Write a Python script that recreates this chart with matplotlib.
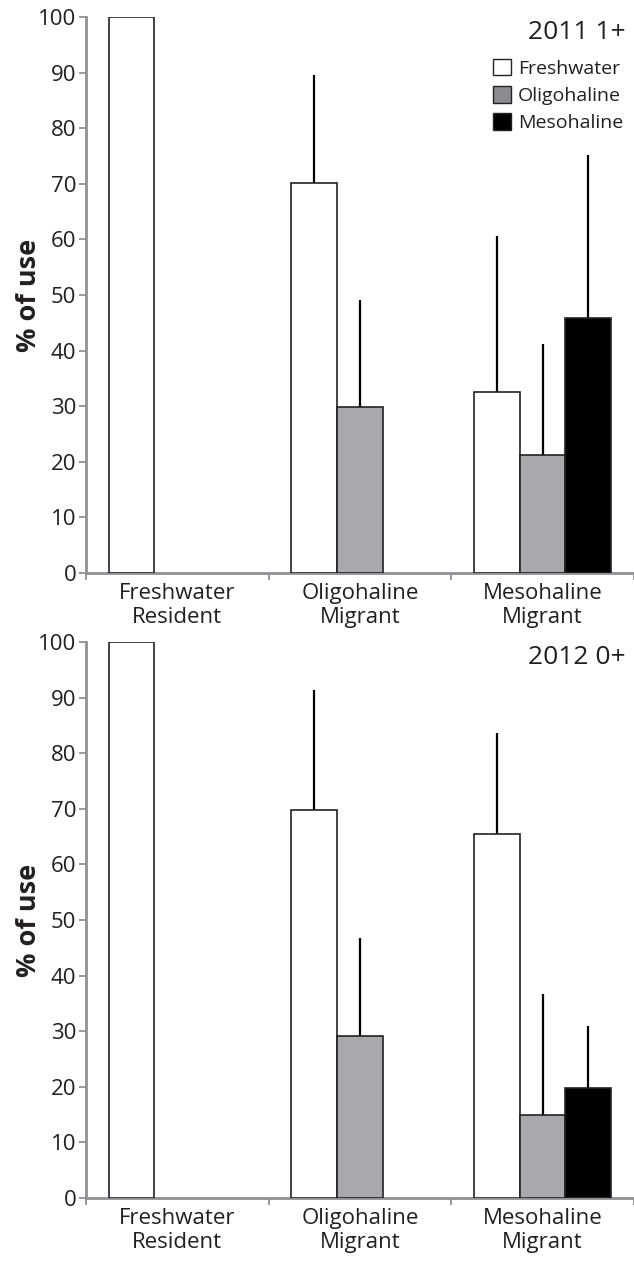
import numpy as np
import matplotlib
matplotlib.use("Agg")
import matplotlib.pyplot as plt
from matplotlib.patches import Patch

plt.rcParams['font.family'] = ['Open Sans', 'DejaVu Sans']

categories = ["Freshwater\nResident", "Oligohaline\nMigrant", "Mesohaline\nMigrant"]
series = ["Freshwater", "Oligohaline", "Mesohaline"]

# 2011, 1+ fish: mean % use and upper SD
fresh_2011 = [100, 70.1, 32.5]
fresh_2011_sd = [0, 19.5, 28.1]
oligo_2011 = [0, 29.8, 21.3]
oligo_2011_sd = [0, 19.3, 19.9]
meso_2011 = [0, 0, 45.9]
meso_2011_sd = [0, 0, 29.3]

# 2012, 0+ fish
fresh_2012 = [100, 69.8, 65.4]
fresh_2012_sd = [0, 21.6, 18.3]
oligo_2012 = [0, 29.1, 14.9]
oligo_2012_sd = [0, 17.7, 21.8]
meso_2012 = [0, 0, 19.8]
meso_2012_sd = [0, 0, 11.1]

colors = ["white", "#a7a9ac", "black"]
axis_grey = "#8e9196"
text_col = "#231f20"


def draw_panel(ax, vals, sds, title):
    x = np.arange(len(categories))
    w = 0.25
    for i, (v, s) in enumerate(zip(vals, sds)):
        v = np.array(v, dtype=float)
        s = np.array(s, dtype=float)
        pos = x + (i - 1) * w
        keep = v > 0
        ax.bar(pos[keep], v[keep], width=w, color=colors[i],
               edgecolor="#222222", linewidth=1.2, zorder=3)
        has_err = keep & (s > 0)
        ax.errorbar(pos[has_err], v[has_err],
                    yerr=[np.zeros(has_err.sum()), s[has_err]],
                    fmt="none", ecolor="black", elinewidth=1.6,
                    capsize=0, zorder=2)
    ax.set_xlim(-0.5, 2.5)
    ax.set_ylim(0, 100)
    ax.set_yticks(np.arange(0, 101, 10))
    ax.set_xticks(x)
    ax.set_xticklabels(categories, fontsize=16, color=text_col, linespacing=1.2)
    ax.set_xticks([-0.5, 0.5, 1.5, 2.5], minor=True)
    ax.tick_params(axis="x", which="major", length=0, pad=7)
    ax.tick_params(axis="x", which="minor", length=5, width=1.3,
                   color=axis_grey, direction="out")
    ax.tick_params(axis="y", length=5, width=1.3, color=axis_grey,
                   labelsize=16, labelcolor=text_col, pad=2)
    for side in ["top", "right"]:
        ax.spines[side].set_visible(False)
    for side in ["left", "bottom"]:
        ax.spines[side].set_color(axis_grey)
        ax.spines[side].set_linewidth(2)
    ax.set_ylabel("% of use", fontsize=19.5, fontweight="bold", color=text_col)
    ax.yaxis.set_label_coords(-0.08, 0.5)
    ax.text(0.985, 0.972, title, transform=ax.transAxes, ha="right",
            va="center", fontsize=19, color=text_col)


fig = plt.figure(figsize=(6.34, 12.68), dpi=100)
ax1 = fig.add_axes([0.1356, 0.5481, 0.8644, 0.4385])
ax2 = fig.add_axes([0.1356, 0.0552, 0.8644, 0.4385])

draw_panel(ax1, [fresh_2011, oligo_2011, meso_2011],
           [fresh_2011_sd, oligo_2011_sd, meso_2011_sd], "2011 1+")
draw_panel(ax2, [fresh_2012, oligo_2012, meso_2012],
           [fresh_2012_sd, oligo_2012_sd, meso_2012_sd], "2012 0+")

handles = [Patch(facecolor=c, edgecolor="#222222", linewidth=1.0) for c in ["white", "#8a8c8f", "black"]]
ax1.legend(handles, series, loc="upper left", bbox_to_anchor=(0.742, 0.925),
           frameon=False, fontsize=14, handlelength=0.95, handleheight=0.95,
           handletextpad=0.35, labelspacing=0.42, borderpad=0, borderaxespad=0,
           labelcolor=text_col)

fig.savefig("out.png", dpi=100)
